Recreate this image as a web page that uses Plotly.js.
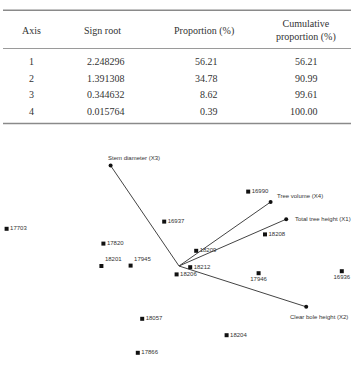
<!DOCTYPE html>
<html>
<head>
<meta charset="utf-8">
<script src="https://cdn.plot.ly/plotly-3.0.1.min.js"></script>
<style>html,body{margin:0;padding:0;background:#fff;}#chart{width:357px;height:365px;}</style>
</head>
<body>
<div id="chart"></div>
<script>
// ---- Table data ----
var tableHeaders = ["Axis", "Sign root", "Proportion (%)", "Cumulative<br>proportion (%)"];
var axisNums = ["1", "2", "3", "4"];
var signRoot = ["2.248296", "1.391308", "0.344632", "0.015764"];
var proportion = ["56.21", "34.78", "8.62", "0.39"];
var cumulative = ["56.21", "90.99", "99.61", "100.00"];

// ---- Biplot data (component scores) ----
var pointIds = ["17703", "17820", "16937", "16990", "18208", "18201", "17945", "18206", "18212", "18209", "17946", "16936", "18204", "18057", "17866"];
var pointX = [-4.31, -1.89, -0.37, 1.73, 2.15, -1.94, -1.21, -0.06, 0.28, 0.43, 1.99, 4.07, 1.19, -0.92, -1.03];
var pointY = [0.93, 0.56, 1.11, 1.86, 0.79, 0.00, 0.01, -0.21, -0.03, 0.38, -0.18, -0.13, -1.73, -1.32, -2.17];
var pointLabelPos = ["middle right", "middle right", "middle right", "middle right", "middle right", "top right", "top right", "middle right", "middle right", "middle right", "bottom center", "bottom center", "middle right", "middle right", "middle right"];

// ---- Variable vectors ----
var varNames = ["Stem diameter (X3)", "Tree volume (X4)", "Total tree height (X1)", "Clear bole height (X2)"];
var varX = [-1.71, 2.29, 2.68, 3.18];
var varY = [2.51, 1.60, 1.17, -1.02];

// build vector line segments
var segX = [], segY = [];
for (var i = 0; i < varX.length; i++) {
  segX.push(0, varX[i], null);
  segY.push(0, varY[i], null);
}

var W = 357, H = 365;
function px(x) { return x / W; }
function py(y) { return 1 - y / H; }

var textColor = "#333";
var serif = "Liberation Serif, DejaVu Serif, serif";
var sans = "Liberation Sans, Arial, sans-serif";

var annotations = [];
// table header
var headerX = [31, 103, 204, 306];
var headerY = [31, 31, 31, 30];
for (var c = 0; c < tableHeaders.length; c++) {
  annotations.push({xref: "paper", yref: "paper", x: px(headerX[c]), y: py(headerY[c]),
    text: tableHeaders[c], showarrow: false, xanchor: "center", yanchor: "middle",
    font: {family: serif, size: 10, color: textColor}});
}
var rowY = [62, 78.3, 95, 111.5];
for (var r = 0; r < axisNums.length; r++) {
  annotations.push({xref: "paper", yref: "paper", x: px(31), y: py(rowY[r]), text: axisNums[r],
    showarrow: false, xanchor: "center", yanchor: "middle", font: {family: serif, size: 10, color: textColor}});
  annotations.push({xref: "paper", yref: "paper", x: px(85), y: py(rowY[r]), text: signRoot[r],
    showarrow: false, xanchor: "left", yanchor: "middle", font: {family: serif, size: 10, color: textColor}});
  annotations.push({xref: "paper", yref: "paper", x: px(220), y: py(rowY[r]), text: proportion[r],
    showarrow: false, xanchor: "right", yanchor: "middle", font: {family: serif, size: 10, color: textColor}});
  annotations.push({xref: "paper", yref: "paper", x: px(319.5), y: py(rowY[r]), text: cumulative[r],
    showarrow: false, xanchor: "right", yanchor: "middle", font: {family: serif, size: 10, color: textColor}});
}

// vector labels
var varLabelAnchor = ["left", "left", "left", "center"];
var varLabelShiftX = [-5, 4, 7, 13];
var varLabelShiftY = [8, 6, 0, -10];
for (var v = 0; v < varNames.length; v++) {
  annotations.push({x: varX[v], y: varY[v], xref: "x", yref: "y", text: varNames[v], showarrow: false,
    xanchor: varLabelAnchor[v], yanchor: "middle", xshift: varLabelShiftX[v], yshift: varLabelShiftY[v],
    font: {family: sans, size: 6, color: textColor}});
}

var shapes = [
  {type: "line", xref: "paper", yref: "paper", x0: px(3), x1: px(351), y0: py(10.3), y1: py(10.3), line: {color: "#8a8a8a", width: 1.5}},
  {type: "line", xref: "paper", yref: "paper", x0: px(3), x1: px(351), y0: py(48.5), y1: py(48.5), line: {color: "#9a9a9a", width: 1}},
  {type: "line", xref: "paper", yref: "paper", x0: px(3), x1: px(351), y0: py(123.5), y1: py(123.5), line: {color: "#8a8a8a", width: 1.5}}
];

var traces = [
  {type: "scatter", mode: "lines", x: segX, y: segY, line: {color: "#444", width: 1}, hoverinfo: "skip", showlegend: false},
  {type: "scatter", mode: "markers", x: varX, y: varY, marker: {symbol: "circle", size: 4, color: "#111"}, showlegend: false},
  {type: "scatter", mode: "markers+text", x: pointX, y: pointY, text: pointIds, textposition: pointLabelPos,
    textfont: {family: sans, size: 6, color: textColor},
    marker: {symbol: "square", size: 4, color: "#111"}, showlegend: false}
];

var layout = {
  width: W, height: H,
  margin: {l: 0, r: 0, t: 0, b: 0},
  paper_bgcolor: "#fff", plot_bgcolor: "#fff",
  xaxis: {domain: [0, 1], range: [-4.475, 4.45], visible: false, showgrid: false, zeroline: false},
  yaxis: {domain: [0, 235 / 365], range: [-2.475, 3.4], visible: false, showgrid: false, zeroline: false},
  annotations: annotations,
  shapes: shapes,
  showlegend: false
};

Plotly.newPlot("chart", traces, layout, {displayModeBar: false, staticPlot: true});
</script>
</body>
</html>
